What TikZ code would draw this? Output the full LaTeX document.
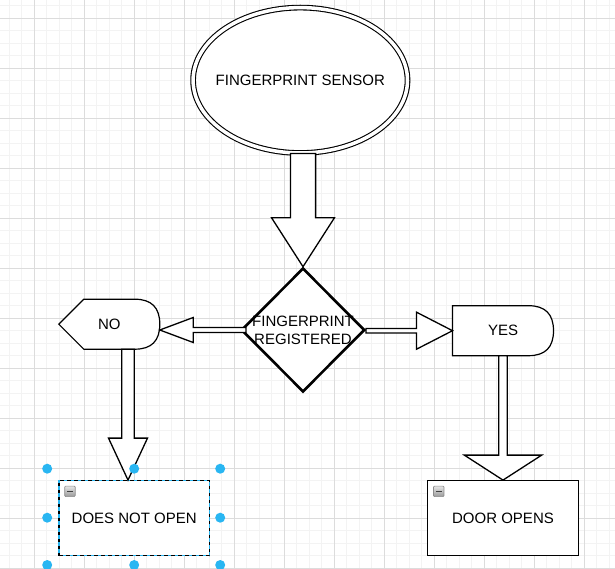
\documentclass[tikz,border=0pt]{standalone}
\usepackage{fontspec}
\setmainfont{Liberation Sans}
\usepackage{tikz}
\usetikzlibrary{shapes.geometric, calc}

\pgfdeclarelayer{gridlayer}
\pgfdeclarelayer{shapelayer}
\pgfsetlayers{gridlayer,shapelayer,main}

\definecolor{gridminor}{HTML}{F3F3F3}
\definecolor{gridmajor}{HTML}{DCDCDC}
\definecolor{selblue}{HTML}{29B6F2}

% block arrow: start, tip, shaft half width, head half width, head length
\newcommand{\flexarrow}[5]{%
  \coordinate (fa-s) at (#1);
  \coordinate (fa-t) at (#2);
  \coordinate (fa-b) at ($(fa-t)!#5pt!(fa-s)$);
  \draw[flexline] ($(fa-s)!#3pt!90:(fa-t)$) -- ($(fa-b)!#3pt!90:(fa-t)$)
    -- ($(fa-b)!#4pt!90:(fa-t)$) -- (fa-t) -- ($(fa-b)!#4pt!-90:(fa-t)$)
    -- ($(fa-b)!#3pt!-90:(fa-t)$) -- ($(fa-s)!#3pt!-90:(fa-t)$) -- cycle;
}

\begin{document}
\begin{tikzpicture}[x=1pt, y=1pt,
    font=\fontsize{15}{18}\selectfont,
    terminal/.style={ellipse, draw, double, double distance=3.5pt, line width=1.1pt, fill=white, minimum width=214.4pt, minimum height=145.4pt, inner xsep=-10pt, inner ysep=0pt},
    decision/.style={diamond, draw, line width=2.6pt, fill=white, minimum width=123.4pt, minimum height=124pt, inner sep=-5pt, align=center},
    branch/.style={rectangle, minimum width=101pt, minimum height=50pt, inner sep=0pt, outer sep=0pt},
    shapeline/.style={draw, line width=1.2pt, fill=white},
    result/.style={rectangle, draw, line width=1.2pt, fill=white, minimum width=150.4pt, minimum height=75pt},
    picked/.style={draw=selblue, postaction={draw=black, dash pattern=on 3.5pt off 3.5pt}},
    flexline/.style={draw, line width=1.3pt, fill=white},
    grip/.style={fill=selblue},
    iconbox/.style={draw=black!45, line width=0.6pt, top color=black!10, bottom color=black!40, rounded corners=1pt}
]
\useasboundingbox (0,0) rectangle (615,568);

\begin{pgfonlayer}{gridlayer}
\fill[white] (0,0) rectangle (615,568);
\begin{scope}[shift={(34.3,-0.3)}]
\draw[gridminor, line width=1pt, step=12.5pt] (-40,0) grid (590,575);
\draw[gridmajor, line width=1pt, step=50pt] (-40,0) grid (590,575);
\end{scope}
\end{pgfonlayer}

\node[terminal] (sensor) at (300.3,487.7) {FINGERPRINT SENSOR};
\node[decision] (check) at (303,238) {FINGERPRINT\\REGISTERED};
\node[branch] (nobox) at (109.3,243.8) {NO};
\node[branch] (yesbox) at (503,237.3) {YES};
\node[result, picked] (locked) at (134.2,49.8) {DOES NOT OPEN};
\node[result] (opens) at (503,49.8) {DOOR OPENS};

\begin{pgfonlayer}{shapelayer}
\draw[shapeline] (nobox.west) -- ($(nobox.north west)+(25,0)$) -- ($(nobox.north east)+(-25,0)$)
  .. controls ($(nobox.north east)+(-8.3,0)$) and ($(nobox.north east)+(0,-8.3)$) .. (nobox.east)
  .. controls ($(nobox.south east)+(0,8.3)$) and ($(nobox.south east)+(-8.3,0)$) .. ($(nobox.south east)+(-25,0)$)
  -- ($(nobox.south west)+(25,0)$) -- cycle;
\draw[shapeline] (yesbox.north west) -- ($(yesbox.north east)+(-25,0)$)
  .. controls ($(yesbox.north east)+(-8.3,0)$) and ($(yesbox.north east)+(0,-8.3)$) .. (yesbox.east)
  .. controls ($(yesbox.south east)+(0,8.3)$) and ($(yesbox.south east)+(-8.3,0)$) .. ($(yesbox.south east)+(-25,0)$)
  -- (yesbox.south west) -- cycle;
\end{pgfonlayer}

\coordinate (sensordrop) at (check.north |- sensor.south);
\flexarrow{sensordrop}{check.north}{12.6}{31.5}{49}
\coordinate (checkleft) at ($(check.west)+(6,0)$);
\flexarrow{checkleft}{nobox.east |- checkleft}{2.5}{12.5}{33.4}
\flexarrow{check.east |- yesbox.west}{yesbox.west}{2.2}{18.5}{36}
\coordinate (nodrop) at ($(nobox.south)+(18.7,0)$);
\flexarrow{nodrop}{nodrop |- locked.north}{6.3}{19.5}{42}
\flexarrow{yesbox.south}{yesbox.south |- opens.north}{4.3}{38.7}{25}

% collapse icons
\foreach \res in {locked, opens} {
  \draw[iconbox] ($(\res.north west)+(6.3,-6)$) rectangle +(10.5,-10.5);
  \draw[line width=1.6pt, black!75] ($(\res.north west)+(8.8,-11.25)$) -- +(5.5,0);
}

% selection handles
\foreach \hx/\hy in {-87/49.5, 0/49.5, 86/49.5, -87/0.5, 86/0.5, -87/-46.8, 0/-46.8, 86/-46.8}
  \fill[grip] ($(locked)+(\hx,\hy)$) circle[radius=5];

\end{tikzpicture}
\end{document}
